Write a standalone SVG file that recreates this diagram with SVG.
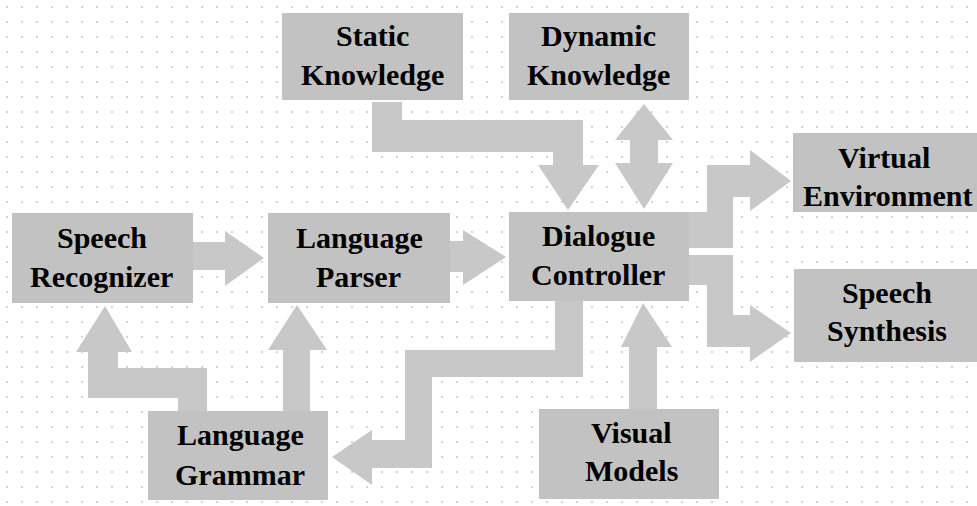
<svg xmlns="http://www.w3.org/2000/svg" width="977" height="506" viewBox="0 0 977 506">
<defs>
<pattern id="dots" x="0" y="0" width="15" height="15" patternUnits="userSpaceOnUse">
<circle cx="7" cy="7" r="0.8" fill="#a0a0a0"/>
</pattern>
</defs>
<rect x="0" y="0" width="977" height="506" fill="#ffffff"/>
<rect x="0" y="0" width="977" height="506" fill="url(#dots)"/>
<g id="connectors" fill="#c8c8c8">
<polygon points="193,242 225,242 225,231 264,258 225,286 225,270 193,270"/>
<polygon points="450,241 463,241 463,230 506,257 463,285 463,272 450,272"/>
<polygon points="372,102 402,102 402,120 583,120 583,165 599,165 568,210 538,165 553,165 553,152 372,152"/>
<polygon points="644,104 673,140 658,140 658,163 673,163 644,209 615,163 630,163 630,140 615,140"/>
<polygon points="689,212 707,212 707,165 750,165 750,150 791,181 750,211 750,197 733,197 733,248 689,248"/>
<polygon points="689,255 733,255 733,315 750,315 750,305 791,333 750,362 750,347 707,347 707,285 689,285"/>
<polygon points="555,301 583,301 583,377 432,377 432,468 372,468 372,485 332,457 372,430 372,440 405,440 405,350 555,350"/>
<polygon points="178,411 207,411 207,368 118,368 118,352 132,352 105,306 76,352 88,352 88,398 178,398"/>
<polygon points="283,411 310,411 310,350 327,350 297,305 268,350 283,350"/>
<polygon points="629,409 657,409 657,347 672,347 643,303 621,347 629,347"/>
</g>
<g id="static-knowledge">
<rect fill="#c2c2c2" x="282" y="13" width="181" height="87"/>
<text x="336" y="46" font-family="Liberation Serif" font-size="30" font-weight="bold" style="font-family:'Liberation Serif' !important">Static</text>
<text x="301" y="85" font-family="Liberation Serif" font-size="30" font-weight="bold" style="font-family:'Liberation Serif' !important">Knowledge</text>
</g>
<g id="dynamic-knowledge">
<rect fill="#c2c2c2" x="509" y="13" width="180" height="87"/>
<text x="541" y="46" font-family="Liberation Serif" font-size="30" font-weight="bold" style="font-family:'Liberation Serif' !important">Dynamic</text>
<text x="527" y="85" font-family="Liberation Serif" font-size="30" font-weight="bold" style="font-family:'Liberation Serif' !important">Knowledge</text>
</g>
<g id="speech-recognizer">
<rect fill="#c2c2c2" x="12" y="213" width="181" height="90"/>
<text x="57" y="248" font-family="Liberation Serif" font-size="30" font-weight="bold" style="font-family:'Liberation Serif' !important">Speech</text>
<text x="30" y="287" font-family="Liberation Serif" font-size="30" font-weight="bold" style="font-family:'Liberation Serif' !important">Recognizer</text>
</g>
<g id="language-parser">
<rect fill="#c2c2c2" x="268" y="213" width="182" height="90"/>
<text x="296" y="248" font-family="Liberation Serif" font-size="30" font-weight="bold" style="font-family:'Liberation Serif' !important">Language</text>
<text x="316" y="287" font-family="Liberation Serif" font-size="30" font-weight="bold" style="font-family:'Liberation Serif' !important">Parser</text>
</g>
<g id="dialogue-controller">
<rect fill="#c2c2c2" x="509" y="212" width="180" height="89"/>
<text x="542" y="246" font-family="Liberation Serif" font-size="30" font-weight="bold" style="font-family:'Liberation Serif' !important">Dialogue</text>
<text x="531" y="285" font-family="Liberation Serif" font-size="30" font-weight="bold" style="font-family:'Liberation Serif' !important">Controller</text>
</g>
<g id="virtual-environment">
<rect fill="#c2c2c2" x="793" y="133" width="184" height="79"/>
<text x="838" y="168" font-family="Liberation Serif" font-size="30" font-weight="bold" style="font-family:'Liberation Serif' !important">Virtual</text>
<text x="803" y="206" font-family="Liberation Serif" font-size="30" font-weight="bold" style="font-family:'Liberation Serif' !important">Environment</text>
</g>
<g id="speech-synthesis">
<rect fill="#c2c2c2" x="794" y="269" width="183" height="93"/>
<text x="842" y="303" font-family="Liberation Serif" font-size="30" font-weight="bold" style="font-family:'Liberation Serif' !important">Speech</text>
<text x="827" y="341" font-family="Liberation Serif" font-size="30" font-weight="bold" style="font-family:'Liberation Serif' !important">Synthesis</text>
</g>
<g id="language-grammar">
<rect fill="#c2c2c2" x="148" y="411" width="180" height="89"/>
<text x="177" y="445" font-family="Liberation Serif" font-size="30" font-weight="bold" style="font-family:'Liberation Serif' !important">Language</text>
<text x="175" y="485" font-family="Liberation Serif" font-size="30" font-weight="bold" style="font-family:'Liberation Serif' !important">Grammar</text>
</g>
<g id="visual-models">
<rect fill="#c2c2c2" x="539" y="409" width="180" height="90"/>
<text x="591" y="443" font-family="Liberation Serif" font-size="30" font-weight="bold" style="font-family:'Liberation Serif' !important">Visual</text>
<text x="585" y="481" font-family="Liberation Serif" font-size="30" font-weight="bold" style="font-family:'Liberation Serif' !important">Models</text>
</g>
</svg>
